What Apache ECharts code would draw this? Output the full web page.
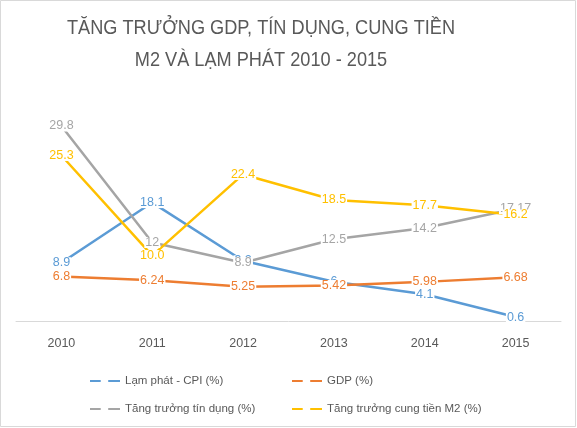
<!DOCTYPE html>
<html>
<head>
<meta charset="utf-8">
<script src="https://cdn.jsdelivr.net/npm/echarts@6/dist/echarts.min.js"></script>
<style>
html,body{margin:0;padding:0;background:#fff;}
#c{width:577px;height:428px;}
</style>
</head>
<body>
<div id="c"></div>
<script>
const years = ['2010','2011','2012','2013','2014','2015'];
const seriesNames = ['Lạm phát - CPI (%)','GDP (%)','Tăng trưởng tín dụng (%)','Tăng trưởng cung tiền M2 (%)'];
const cpi = [8.9, 18.1, 9.2, 6, 4.1, 0.6];
const gdp = [6.8, 6.24, 5.25, 5.42, 5.98, 6.68];
const credit = [29.8, 12, 8.9, 12.5, 14.2, 17.17];
const m2 = [25.3, 10.0, 22.4, 18.5, 17.7, 16.2];
const cpiLabels = ['8.9','18.1','9.2','6','4.1','0.6'];
const gdpLabels = ['6.8','6.24','5.25','5.42','5.98','6.68'];
const creditLabels = ['29.8','12','8.9','12.5','14.2','17.17'];
const m2Labels = ['25.3','10.0','22.4','18.5','17.7','16.2'];
const titleLines = ['TĂNG TRƯỞNG GDP, TÍN DỤNG, CUNG TIỀN','M2 VÀ LẠM PHÁT 2010 - 2015'];

const colors = ['#5B9BD5','#ED7D31','#A5A5A5','#FFC000'];
const allData = [cpi, gdp, credit, m2];
const allLabels = [cpiLabels, gdpLabels, creditLabels, m2Labels];
const labelOffsets = [[0,-1],[0,1.5],[0,0],[0,0]];

const chart = echarts.init(document.getElementById('c'));
const icon = 'path://M0,0H10V2H0Z M17,0H28V2H17Z';
const legendPos = [[85,370],[287,370],[85,398],[287,398]];

const option = {
  backgroundColor: '#fff',
  animation: false,
  graphic: [
    {type:'rect', shape:{x:0.5,y:0.5,width:575,height:426}, style:{fill:'none', stroke:'#d9d9d9', lineWidth:1}, silent:true},
    {type:'text', x:261, y:28, scaleX:0.865, silent:true,
     style:{text:titleLines[0], textAlign:'center', textVerticalAlign:'middle', fill:'#595959',
            font:'21px "Liberation Sans", sans-serif'}},
    {type:'text', x:261, y:60, scaleX:0.865, silent:true,
     style:{text:titleLines[1], textAlign:'center', textVerticalAlign:'middle', fill:'#595959',
            font:'21px "Liberation Sans", sans-serif'}}
  ],
  legend: seriesNames.map((n,i)=>({
    data:[n], left: legendPos[i][0], top: legendPos[i][1], icon: icon, itemWidth: 30, itemHeight: 2.5,
    textStyle:{fontFamily:'"Liberation Sans",sans-serif', fontSize:11.5, color:'#595959'},
    selectedMode:false
  })),
  grid: {left: 16, right: 16, top: 92, bottom: 107, containLabel: false},
  xAxis: {
    type:'category', data: years, boundaryGap: true,
    axisLine:{lineStyle:{color:'#d9d9d9', width:1}},
    axisTick:{show:false},
    axisLabel:{color:'#595959', fontSize:12.5, fontFamily:'"Liberation Sans",sans-serif', margin:16}
  },
  yAxis: {type:'value', min:0, max:35, show:false, splitLine:{show:false}},
  series: seriesNames.map((n,i)=>({
    name:n, type:'line', data: allData[i],
    symbol:'circle', symbolSize:0.1,
    lineStyle:{color:colors[i], width:2.5},
    itemStyle:{color:colors[i]},
    label:{
      show:true, position:'inside', offset: labelOffsets[i],
      formatter: p => allLabels[i][p.dataIndex],
      color: colors[i], fontSize:12.5, fontFamily:'"Liberation Sans",sans-serif',
      backgroundColor:'#fff', padding:[-1,1]
    },
    labelLayout:{hideOverlap:false}
  }))
};
chart.setOption(option);
</script>
</body>
</html>
